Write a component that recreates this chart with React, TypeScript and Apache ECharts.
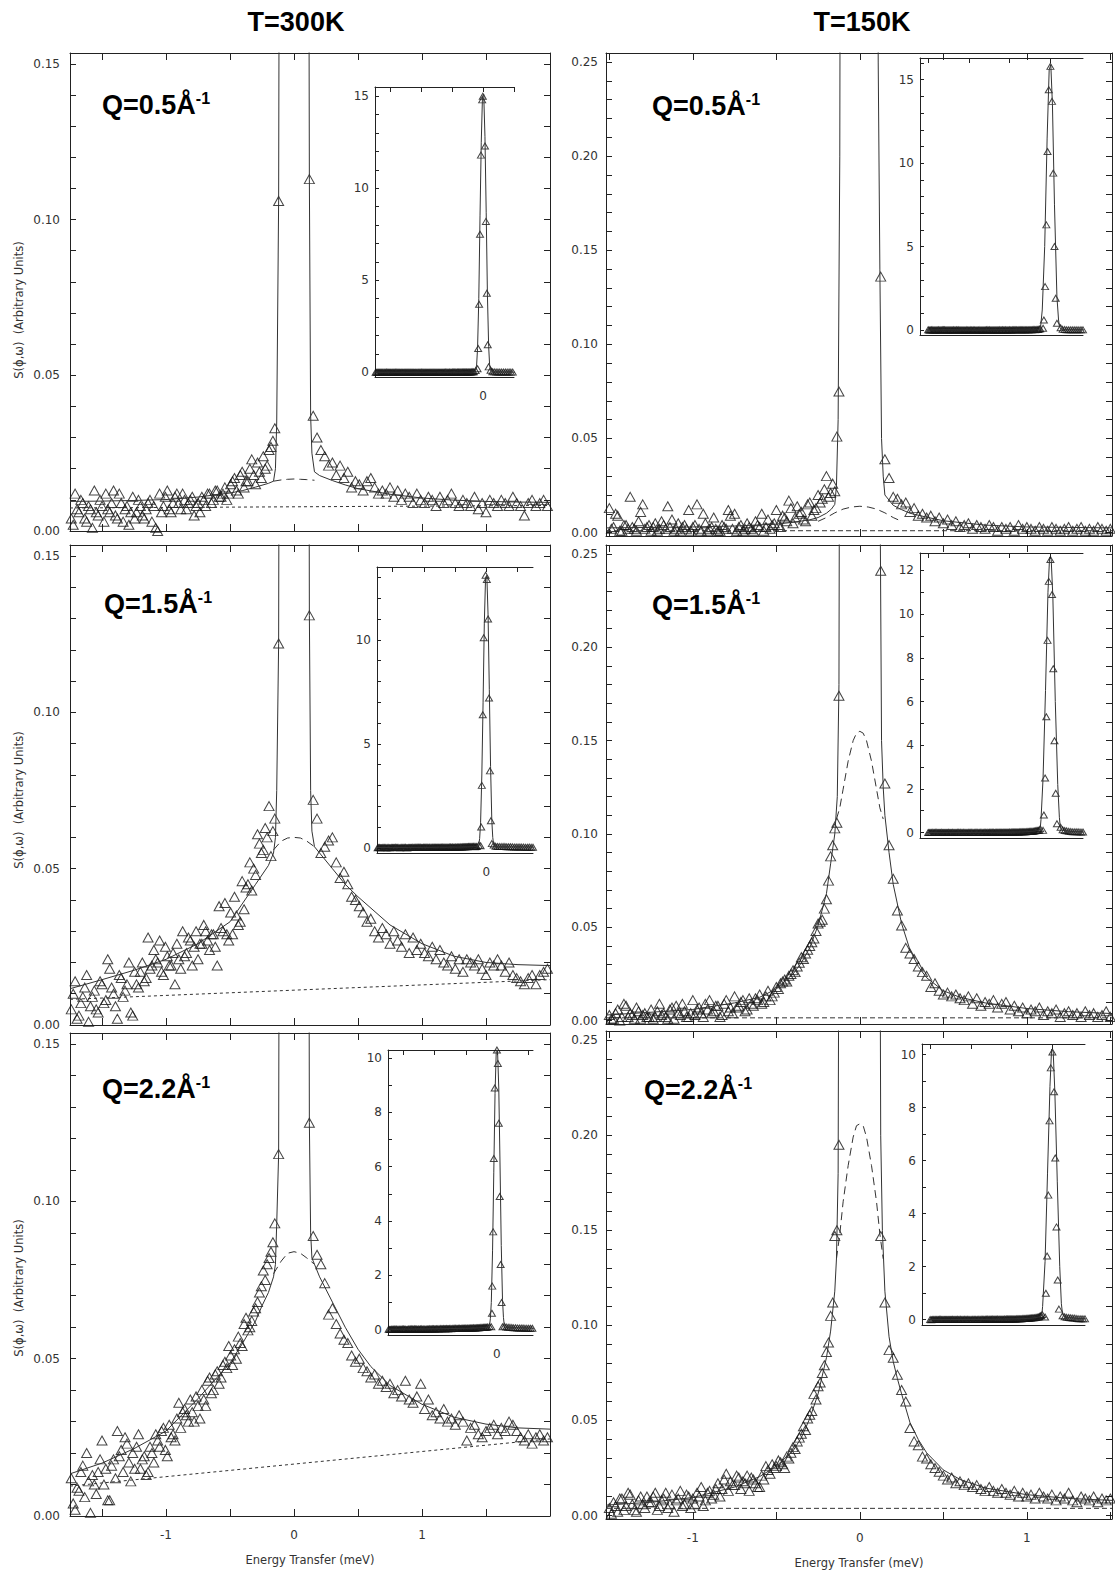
import React, { useEffect, useRef } from "react";
import * as echarts from "echarts";

// ---------- energy grids (meV) ----------
const E_LEFT = [
  -1.74, -1.71, -1.68, -1.65, -1.62, -1.59, -1.56, -1.53, -1.5, -1.47,
  -1.44, -1.41, -1.38, -1.35, -1.32, -1.29, -1.26, -1.23, -1.2, -1.17,
  -1.14, -1.11, -1.08, -1.05, -1.02, -0.99, -0.96, -0.93, -0.9, -0.87,
  -0.84, -0.81, -0.78, -0.75, -0.72, -0.69, -0.66, -0.63, -0.6, -0.57,
  -0.54, -0.51, -0.48, -0.45, -0.42, -0.39, -0.36, -0.33, -0.3, -0.27,
  -0.24, -0.21, -0.18, -0.15, -0.12,
  0.12, 0.15, 0.18, 0.21, 0.24, 0.27, 0.3, 0.33, 0.36, 0.39,
  0.42, 0.45, 0.48, 0.51, 0.54, 0.57, 0.6, 0.63, 0.66, 0.69,
  0.72, 0.75, 0.78, 0.81, 0.84, 0.87, 0.9, 0.93, 0.96, 0.99,
  1.02, 1.05, 1.08, 1.11, 1.14, 1.17, 1.2, 1.23, 1.26, 1.29,
  1.32, 1.35, 1.38, 1.41, 1.44, 1.47, 1.5, 1.53, 1.56, 1.59,
  1.62, 1.65, 1.68, 1.71, 1.74, 1.77, 1.8, 1.83, 1.86, 1.89,
  1.92, 1.95, 1.98,
];
const E_LEFT_B = [
  -1.725, -1.695, -1.665, -1.635, -1.605, -1.575, -1.545, -1.515, -1.485, -1.455,
  -1.425, -1.395, -1.365, -1.335, -1.305, -1.275, -1.245, -1.215, -1.185, -1.155,
  -1.125, -1.095, -1.065, -1.035, -1.005, -0.975, -0.945, -0.915, -0.885, -0.855,
  -0.825, -0.795, -0.765, -0.735, -0.705, -0.675, -0.645, -0.615, -0.585, -0.555,
  -0.525, -0.495, -0.465, -0.435, -0.405, -0.375, -0.345, -0.315, -0.285, -0.255,
  -0.225, -0.195, -0.165,
];
const E_RIGHT = [
  -1.5, -1.475, -1.45, -1.425, -1.4, -1.375, -1.35, -1.325, -1.3, -1.275,
  -1.25, -1.225, -1.2, -1.175, -1.15, -1.125, -1.1, -1.075, -1.05, -1.025,
  -1.0, -0.975, -0.95, -0.925, -0.9, -0.875, -0.85, -0.825, -0.8, -0.775,
  -0.75, -0.725, -0.7, -0.675, -0.65, -0.625, -0.6, -0.575, -0.55, -0.525,
  -0.5, -0.475, -0.45, -0.425, -0.4, -0.375, -0.35, -0.325, -0.3, -0.275,
  -0.25, -0.225, -0.2, -0.175, -0.15, -0.125,
  0.125, 0.15, 0.175, 0.2, 0.225, 0.25, 0.275, 0.3, 0.325, 0.35,
  0.375, 0.4, 0.425, 0.45, 0.475, 0.5, 0.525, 0.55, 0.575, 0.6,
  0.625, 0.65, 0.675, 0.7, 0.725, 0.75, 0.775, 0.8, 0.825, 0.85,
  0.875, 0.9, 0.925, 0.95, 0.975, 1.0, 1.025, 1.05, 1.075, 1.1,
  1.125, 1.15, 1.175, 1.2, 1.225, 1.25, 1.275, 1.3, 1.325, 1.35,
  1.375, 1.4, 1.425, 1.45, 1.475, 1.5,
];
const E_RIGHT_B = [
  -1.4875, -1.4625, -1.4375, -1.4125, -1.3875, -1.3625, -1.3375, -1.3125, -1.2875, -1.2625,
  -1.2375, -1.2125, -1.1875, -1.1625, -1.1375, -1.1125, -1.0875, -1.0625, -1.0375, -1.0125,
  -0.9875, -0.9625, -0.9375, -0.9125, -0.8875, -0.8625, -0.8375, -0.8125, -0.7875, -0.7625,
  -0.7375, -0.7125, -0.6875, -0.6625, -0.6375, -0.6125, -0.5875, -0.5625, -0.5375, -0.5125,
  -0.4875, -0.4625, -0.4375, -0.4125, -0.3875, -0.3625, -0.3375, -0.3125, -0.2875, -0.2625,
  -0.2375, -0.2125, -0.1875, -0.1625, -0.1375,
];

// ---------- measured S(phi,omega), T = 300 K ----------
const S300_Q05 = [
  0.004, 0.012, 0.006, 0.009, 0.003, 0.007, 0.013, 0.005, 0.008, 0.012,
  0.006, 0.013, 0.004, 0.009, 0.007, 0.002, 0.011, 0.006, 0.008, 0.004,
  0.009, 0.003, 0.001, 0.012, 0.008, 0.013, 0.006, 0.011, 0.009, 0.012,
  0.007, 0.01, 0.005, 0.009, 0.011, 0.008, 0.012, 0.01, 0.013, 0.011,
  0.014, 0.012, 0.016, 0.013, 0.018, 0.014, 0.016, 0.023, 0.015, 0.019,
  0.024, 0.021, 0.027, 0.033, 0.106,
  0.113, 0.037, 0.03, 0.026, 0.024, 0.021, 0.022, 0.018, 0.021, 0.017,
  0.019, 0.014, 0.016, 0.015, 0.013, 0.016, 0.017, 0.014, 0.012, 0.013,
  0.012, 0.014, 0.011, 0.013, 0.01, 0.012, 0.011, 0.009, 0.012, 0.01,
  0.009, 0.011, 0.01, 0.008, 0.011, 0.009, 0.01, 0.012, 0.009, 0.008,
  0.01, 0.009, 0.008, 0.011, 0.007, 0.009, 0.006, 0.01, 0.009, 0.008,
  0.01, 0.009, 0.008, 0.011, 0.009, 0.008, 0.005, 0.009, 0.01, 0.008,
  0.009, 0.01, 0.008,
];
const S300_Q05_B = [
  0.002, 0.007, 0.01, 0.004, 0.008, 0.001, 0.006, 0.01, 0.003, 0.007,
  0.009, 0.005, 0.012, 0.003, 0.008, 0.006, 0.004, 0.01, 0.005, 0.007,
  0.01, 0.008, 0.0, 0.006, 0.011, 0.007, 0.009, 0.012, 0.007, 0.01,
  0.009, 0.011, 0.008, 0.006, 0.01, 0.012, 0.009, 0.013, 0.011, 0.012,
  0.01, 0.015, 0.017, 0.012, 0.019, 0.016, 0.02, 0.018, 0.022, 0.017,
  0.02, 0.026, 0.029,
];
const S300_Q15 = [
  0.005, 0.014, 0.003, 0.009, 0.016, 0.006, 0.011, 0.004, 0.013, 0.008,
  0.018, 0.01, 0.002, 0.015, 0.011, 0.02, 0.003, 0.013, 0.017, 0.014,
  0.028, 0.019, 0.021, 0.027, 0.016, 0.022, 0.019, 0.013, 0.021, 0.03,
  0.023, 0.027, 0.025, 0.021, 0.026, 0.03, 0.024, 0.029, 0.019, 0.031,
  0.039, 0.027, 0.029, 0.035, 0.033, 0.037, 0.045, 0.043, 0.048, 0.058,
  0.056, 0.06, 0.054, 0.066, 0.122,
  0.131, 0.072, 0.066, 0.055, 0.057, 0.059, 0.06, 0.052, 0.047, 0.049,
  0.045, 0.041, 0.04, 0.038, 0.036, 0.033, 0.034, 0.03, 0.028, 0.031,
  0.029, 0.026, 0.03, 0.027, 0.025, 0.029, 0.023, 0.028, 0.024, 0.026,
  0.023, 0.022, 0.025, 0.021, 0.024, 0.02, 0.019, 0.022, 0.018, 0.021,
  0.017, 0.021, 0.02, 0.019, 0.021, 0.018, 0.016, 0.02, 0.019, 0.021,
  0.019, 0.017, 0.02, 0.016, 0.015, 0.014, 0.013, 0.015, 0.016, 0.013,
  0.016, 0.017, 0.018,
];
const S300_Q15_B = [
  0.01, 0.002, 0.007, 0.012, 0.001, 0.009, 0.005, 0.014, 0.007, 0.021,
  0.012, 0.006, 0.016, 0.009, 0.013, 0.004, 0.017, 0.012, 0.02, 0.015,
  0.018, 0.024, 0.02, 0.017, 0.025, 0.019, 0.023, 0.026, 0.018, 0.022,
  0.028, 0.019, 0.03, 0.026, 0.032, 0.027, 0.029, 0.025, 0.038, 0.03,
  0.029, 0.036, 0.041, 0.032, 0.046, 0.044, 0.052, 0.05, 0.061, 0.055,
  0.063, 0.07, 0.062,
];
const S300_Q22 = [
  0.012, 0.002, 0.008, 0.016, 0.02, 0.001, 0.01, 0.014, 0.024, 0.015,
  0.005, 0.018, 0.027, 0.021, 0.025, 0.017, 0.02, 0.022, 0.015, 0.019,
  0.014, 0.02, 0.026, 0.022, 0.028, 0.019, 0.025, 0.024, 0.036, 0.033,
  0.032, 0.037, 0.03, 0.035, 0.04, 0.035, 0.044, 0.04, 0.046, 0.044,
  0.049, 0.054, 0.048, 0.05, 0.055, 0.061, 0.059, 0.062, 0.066, 0.071,
  0.078, 0.08, 0.084, 0.093, 0.115,
  0.125, 0.089, 0.083, 0.08, 0.074, 0.064, 0.066, 0.061, 0.058, 0.056,
  0.055, 0.051, 0.049, 0.05, 0.047, 0.046, 0.044, 0.045, 0.042, 0.043,
  0.041, 0.042, 0.039, 0.04, 0.038, 0.043, 0.037, 0.036, 0.038, 0.042,
  0.034, 0.037, 0.032, 0.033, 0.031, 0.034, 0.03, 0.031, 0.029, 0.032,
  0.03, 0.024, 0.028, 0.029, 0.026, 0.025, 0.027, 0.028, 0.029, 0.026,
  0.028, 0.027, 0.03, 0.029, 0.027, 0.025, 0.024, 0.026, 0.023, 0.025,
  0.026, 0.024, 0.025,
];
const S300_Q22_B = [
  0.004, 0.009, 0.014, 0.006, 0.011, 0.013, 0.007, 0.018, 0.01, 0.005,
  0.016, 0.012, 0.019, 0.014, 0.023, 0.011, 0.015, 0.026, 0.018, 0.013,
  0.022, 0.017, 0.024, 0.027, 0.021, 0.029, 0.026, 0.031, 0.028, 0.034,
  0.03, 0.033, 0.038, 0.031, 0.037, 0.043, 0.039, 0.045, 0.042, 0.048,
  0.047, 0.051, 0.053, 0.057, 0.054, 0.063, 0.06, 0.065, 0.068, 0.073,
  0.075, 0.082, 0.087,
];

// ---------- measured S(phi,omega), T = 150 K ----------
const S150_Q05 = [
  0.013, 0.003, 0.009, 0.001, 0.004, 0.019, 0.002, 0.006, 0.015, 0.003,
  0.001, 0.005, 0.002, 0.004, 0.014, 0.007, 0.002, 0.001, 0.004, 0.012,
  0.003, 0.015, 0.001, 0.005, 0.002, 0.008, 0.001, 0.004, 0.002, 0.009,
  0.01, 0.003, 0.001, 0.005, 0.002, 0.006, 0.003, 0.001, 0.007, 0.004,
  0.012, 0.003, 0.008, 0.017, 0.005, 0.014, 0.011, 0.006, 0.016, 0.012,
  0.02, 0.018, 0.03, 0.021, 0.022, 0.075,
  0.136, 0.039, 0.029, 0.019, 0.018, 0.015, 0.016, 0.011, 0.013, 0.009,
  0.01, 0.008, 0.009, 0.006, 0.008, 0.005, 0.007, 0.004, 0.006, 0.003,
  0.004, 0.005, 0.002, 0.004, 0.003, 0.002, 0.004, 0.003, 0.001, 0.003,
  0.002, 0.003, 0.001, 0.004, 0.002, 0.003, 0.002, 0.001, 0.003, 0.002,
  0.001, 0.003, 0.002, 0.001, 0.002, 0.003, 0.001, 0.002, 0.003, 0.001,
  0.002, 0.001, 0.003, 0.002, 0.001, 0.002,
];
const S150_Q05_B = [
  0.002, 0.01, 0.001, 0.004, 0.002, 0.003, 0.001, 0.011, 0.002, 0.004,
  0.003, 0.001, 0.006, 0.002, 0.003, 0.001, 0.005, 0.003, 0.002, 0.001,
  0.004, 0.002, 0.01, 0.001, 0.003, 0.002, 0.001, 0.003, 0.012, 0.002,
  0.001, 0.004, 0.002, 0.003, 0.001, 0.004, 0.01, 0.003, 0.002, 0.005,
  0.004, 0.009, 0.006, 0.013, 0.008, 0.01, 0.007, 0.015, 0.009, 0.013,
  0.016, 0.023, 0.019, 0.026, 0.051,
];
const S150_Q15 = [
  0.003, 0.001, 0.006, 0.002, 0.008, 0.004, 0.001, 0.005, 0.003, 0.002,
  0.006, 0.002, 0.009, 0.004, 0.001, 0.007, 0.008, 0.003, 0.005, 0.002,
  0.011, 0.006, 0.004, 0.009, 0.011, 0.005, 0.008, 0.003, 0.011, 0.007,
  0.013, 0.008, 0.011, 0.006, 0.009, 0.012, 0.014, 0.01, 0.016, 0.013,
  0.018, 0.02, 0.022, 0.024, 0.027, 0.029, 0.034, 0.036, 0.04, 0.044,
  0.052, 0.054, 0.065, 0.088, 0.103, 0.174,
  0.241, 0.127, 0.094, 0.076, 0.059, 0.051, 0.039, 0.036, 0.033, 0.029,
  0.026, 0.024, 0.018, 0.02, 0.016, 0.014, 0.015, 0.013, 0.014, 0.012,
  0.011, 0.013, 0.009, 0.012, 0.008, 0.01, 0.009, 0.011, 0.007, 0.009,
  0.01, 0.006, 0.008, 0.005, 0.007, 0.004, 0.006, 0.005, 0.007, 0.003,
  0.005, 0.004, 0.006, 0.002, 0.004, 0.005, 0.003, 0.004, 0.002, 0.005,
  0.003, 0.004, 0.002, 0.003, 0.005, 0.002,
];
const S150_Q15_B = [
  0.001, 0.004, 0.0, 0.009, 0.002, 0.003, 0.007, 0.001, 0.004, 0.002,
  0.001, 0.005, 0.003, 0.002, 0.006, 0.001, 0.004, 0.009, 0.002, 0.004,
  0.003, 0.007, 0.002, 0.006, 0.004, 0.008, 0.002, 0.009, 0.005, 0.004,
  0.007, 0.01, 0.005, 0.012, 0.008, 0.011, 0.009, 0.013, 0.011, 0.015,
  0.017, 0.021, 0.021, 0.025, 0.026, 0.031, 0.033, 0.038, 0.042, 0.048,
  0.053, 0.06, 0.075, 0.094, 0.106,
];
const S150_Q22 = [
  0.004, 0.007, 0.002, 0.009, 0.005, 0.011, 0.003, 0.008, 0.006, 0.01,
  0.007, 0.012, 0.005, 0.009, 0.004, 0.011, 0.008, 0.013, 0.006, 0.01,
  0.009, 0.012, 0.015, 0.008, 0.013, 0.011, 0.017, 0.014, 0.022, 0.018,
  0.016, 0.02, 0.018, 0.021, 0.02, 0.017, 0.015, 0.019, 0.024, 0.027,
  0.026, 0.028, 0.025, 0.03, 0.036, 0.039, 0.043, 0.045, 0.053, 0.064,
  0.068, 0.075, 0.086, 0.105, 0.147, 0.195,
  0.147, 0.112, 0.087, 0.083, 0.074, 0.066, 0.06, 0.046, 0.039, 0.037,
  0.031, 0.03, 0.027, 0.025, 0.023, 0.021, 0.019, 0.02, 0.017, 0.018,
  0.016, 0.017, 0.015, 0.016, 0.014, 0.013, 0.015, 0.013, 0.012, 0.014,
  0.012, 0.011, 0.013, 0.01, 0.012, 0.01, 0.011, 0.009, 0.012, 0.01,
  0.009, 0.011, 0.008, 0.01, 0.009, 0.012, 0.008, 0.007, 0.01, 0.009,
  0.008, 0.01, 0.007, 0.009, 0.008, 0.009,
];
const S150_Q22_B = [
  0.001, 0.005, 0.009, 0.003, 0.012, 0.006, 0.002, 0.01, 0.004, 0.007,
  0.01, 0.003, 0.008, 0.012, 0.006, 0.002, 0.009, 0.005, 0.011, 0.004,
  0.006, 0.01, 0.005, 0.012, 0.009, 0.014, 0.01, 0.019, 0.013, 0.016,
  0.021, 0.014, 0.017, 0.013, 0.019, 0.015, 0.021, 0.026, 0.022, 0.025,
  0.029, 0.027, 0.031, 0.033, 0.035, 0.041, 0.047, 0.051, 0.055, 0.061,
  0.07, 0.079, 0.091, 0.112, 0.15,
];

// ---------- elastic-peak points [E, S], shown in the insets ----------
const PEAK_300_Q05 = [
  [-0.09, 0.2], [-0.08, 1.3], [-0.065, 3.7], [-0.05, 7.5], [-0.035, 11.8], [-0.015, 14.8],
  [-0.005, 15.0], [0.03, 12.3], [0.045, 8.2], [0.06, 4.3], [0.075, 1.5], [0.09, 0.3],
];
const PEAK_300_Q15 = [
  [-0.09, 0.1], [-0.08, 1.0], [-0.07, 3.0], [-0.055, 6.4], [-0.04, 10.1], [-0.01, 13.1],
  [0.01, 12.9], [0.03, 11.0], [0.045, 7.2], [0.06, 3.7], [0.075, 1.3], [0.09, 0.2],
];
const PEAK_300_Q22 = [
  [-0.09, 0.1], [-0.08, 0.6], [-0.075, 1.6], [-0.06, 3.6], [-0.05, 6.3], [-0.035, 8.9],
  [0.0, 10.3], [0.015, 9.8], [0.03, 7.6], [0.045, 4.9], [0.06, 2.4], [0.075, 1.0], [0.09, 0.1],
];
const PEAK_150_Q05 = [
  [-0.09, 0.1], [-0.08, 0.6], [-0.065, 2.6], [-0.05, 6.3], [-0.035, 10.7], [-0.02, 14.4],
  [0.0, 15.8], [0.02, 13.7], [0.035, 9.4], [0.05, 5.0], [0.065, 1.9], [0.08, 0.4],
];
const PEAK_150_Q15 = [
  [-0.09, 0.1], [-0.08, 0.8], [-0.065, 2.5], [-0.05, 5.3], [-0.035, 8.8], [-0.02, 11.5],
  [0.0, 12.5], [0.02, 10.9], [0.035, 7.5], [0.05, 4.2], [0.065, 1.8], [0.08, 0.4],
];
const PEAK_150_Q22 = [
  [-0.09, 0.1], [-0.08, 1.0], [-0.065, 2.4], [-0.05, 4.7], [-0.035, 7.5], [-0.02, 9.5],
  [0.0, 10.1], [0.02, 8.6], [0.035, 6.1], [0.05, 3.5], [0.065, 1.5], [0.08, 0.4],
];

// ---------- model curves [E, S]: total fit, quasi-elastic part, background ----------
const FIT_300_Q05 = [
  [-1.75, 0.0095], [-1.5, 0.0096], [-1.25, 0.0098], [-1.0, 0.0101], [-0.75, 0.0109],
  [-0.5, 0.0122], [-0.4, 0.013], [-0.3, 0.0141], [-0.2, 0.0153], [-0.16, 0.016],
  [-0.145, 0.02], [-0.135, 0.035], [-0.12, 0.106], [-0.105, 0.4], [-0.09, 1.3],
  [-0.07, 4.0], [-0.05, 8.5], [-0.03, 12.5], [-0.01, 15.0], [0.01, 15.1], [0.03, 12.8],
  [0.05, 8.7], [0.07, 4.2], [0.09, 1.4], [0.105, 0.42], [0.12, 0.113], [0.13, 0.037],
  [0.14, 0.025], [0.16, 0.019], [0.2, 0.0178], [0.3, 0.0162], [0.4, 0.0148], [0.5, 0.0136],
  [0.75, 0.0118], [1.0, 0.0106], [1.25, 0.0099], [1.5, 0.0095], [1.75, 0.0093], [2.0, 0.0092],
];
const QENS_300_Q05 = [
  [-0.16, 0.016], [-0.1, 0.0164], [-0.05, 0.0166], [0.0, 0.0167], [0.05, 0.0166], [0.1, 0.0165], [0.16, 0.0163],
];
const BKG_300_Q05 = [[-1.75, 0.0074], [2.0, 0.0082]];

const FIT_300_Q15 = [
  [-1.75, 0.0116], [-1.5, 0.0145], [-1.25, 0.0175], [-1.0, 0.021], [-0.75, 0.026],
  [-0.5, 0.033], [-0.4, 0.039], [-0.3, 0.045], [-0.2, 0.051], [-0.16, 0.055],
  [-0.145, 0.06], [-0.135, 0.075], [-0.12, 0.122], [-0.105, 0.45], [-0.09, 1.2],
  [-0.07, 3.5], [-0.05, 7.0], [-0.03, 10.8], [-0.01, 13.0], [0.01, 13.1], [0.03, 11.2],
  [0.05, 7.6], [0.07, 3.9], [0.09, 1.3], [0.105, 0.5], [0.12, 0.131], [0.13, 0.075],
  [0.14, 0.062], [0.16, 0.057], [0.2, 0.055], [0.3, 0.05], [0.4, 0.045], [0.5, 0.041],
  [0.75, 0.032], [1.0, 0.026], [1.25, 0.022], [1.5, 0.02], [1.75, 0.0193], [2.0, 0.019],
];
const QENS_300_Q15 = [
  [-0.16, 0.056], [-0.1, 0.0588], [-0.05, 0.0598], [0.0, 0.06], [0.05, 0.0598], [0.1, 0.0588], [0.16, 0.057],
];
const BKG_300_Q15 = [[-1.75, 0.0082], [2.0, 0.0145]];

const FIT_300_Q22 = [
  [-1.75, 0.0134], [-1.5, 0.0168], [-1.25, 0.0214], [-1.0, 0.027], [-0.75, 0.0373],
  [-0.5, 0.0486], [-0.4, 0.055], [-0.3, 0.062], [-0.25, 0.0668], [-0.2, 0.071],
  [-0.16, 0.076], [-0.145, 0.08], [-0.135, 0.093], [-0.12, 0.115], [-0.105, 0.4],
  [-0.09, 1.0], [-0.07, 2.9], [-0.05, 5.8], [-0.03, 8.7], [-0.01, 10.3], [0.01, 10.3],
  [0.03, 8.9], [0.05, 6.1], [0.07, 3.1], [0.09, 1.1], [0.105, 0.45], [0.12, 0.125],
  [0.13, 0.09], [0.14, 0.082], [0.16, 0.08], [0.2, 0.076], [0.3, 0.068], [0.4, 0.06],
  [0.5, 0.053], [0.6, 0.0475], [0.75, 0.0415], [1.0, 0.0355], [1.25, 0.0314], [1.5, 0.0292], [1.75, 0.028], [2.0, 0.0276],
];
const QENS_300_Q22 = [
  [-0.16, 0.077], [-0.1, 0.081], [-0.05, 0.0835], [0.0, 0.084], [0.05, 0.0835], [0.1, 0.082], [0.16, 0.08],
];
const BKG_300_Q22 = [[-1.75, 0.0095], [2.0, 0.0245]];

const FIT_150_Q05 = [
  [-1.52, 0.0025], [-1.0, 0.003], [-0.75, 0.0035], [-0.5, 0.0045], [-0.4, 0.0055],
  [-0.3, 0.0068], [-0.25, 0.008], [-0.2, 0.0103], [-0.17, 0.0125], [-0.15, 0.015],
  [-0.14, 0.025], [-0.13, 0.06], [-0.12, 0.2], [-0.1, 1.2], [-0.07, 5.0], [-0.04, 11.5],
  [-0.015, 15.6], [0.005, 15.9], [0.025, 13.5], [0.05, 7.5], [0.08, 2.0], [0.1, 0.6],
  [0.11, 0.25], [0.12, 0.14], [0.13, 0.05], [0.14, 0.03], [0.15, 0.02], [0.2, 0.0145],
  [0.25, 0.0122], [0.3, 0.0103], [0.4, 0.0082], [0.5, 0.0063], [0.75, 0.004], [1.0, 0.003], [1.51, 0.0025],
];
const QENS_150_Q05 = [
  [-0.25, 0.006], [-0.2, 0.008], [-0.15, 0.0105], [-0.1, 0.0125], [-0.05, 0.0136], [0.0, 0.014],
  [0.05, 0.0136], [0.1, 0.0125], [0.15, 0.0105], [0.2, 0.008], [0.25, 0.006],
];
const BKG_150_Q05 = [[-1.52, 0.001], [1.51, 0.001]];

const FIT_150_Q15 = [
  [-1.52, 0.003], [-1.25, 0.0045], [-1.0, 0.006], [-0.75, 0.0095], [-0.6, 0.0125],
  [-0.5, 0.017], [-0.4, 0.025], [-0.35, 0.031], [-0.3, 0.039], [-0.25, 0.051],
  [-0.2, 0.068], [-0.175, 0.084], [-0.15, 0.1], [-0.135, 0.12], [-0.125, 0.18],
  [-0.115, 0.6], [-0.09, 2.5], [-0.06, 6.5], [-0.03, 11.0], [-0.01, 12.6], [0.01, 12.5],
  [0.03, 10.8], [0.06, 6.0], [0.09, 2.2], [0.11, 0.7], [0.12, 0.3], [0.13, 0.15],
  [0.14, 0.125], [0.15, 0.11], [0.175, 0.09], [0.2, 0.073], [0.25, 0.052], [0.3, 0.038],
  [0.35, 0.029], [0.4, 0.023], [0.5, 0.016], [0.6, 0.0125], [0.75, 0.0095], [1.0, 0.0065],
  [1.25, 0.0048], [1.51, 0.0038],
];
const QENS_150_Q15 = [
  [-0.14, 0.108], [-0.12, 0.114], [-0.1, 0.124], [-0.07, 0.139], [-0.04, 0.15], [-0.02, 0.154],
  [0.0, 0.155], [0.02, 0.154], [0.04, 0.15], [0.07, 0.139], [0.1, 0.124], [0.12, 0.114], [0.14, 0.108],
];
const BKG_150_Q15 = [[-1.52, 0.0015], [1.51, 0.0015]];

const FIT_150_Q22 = [
  [-1.52, 0.0055], [-1.25, 0.007], [-1.0, 0.0095], [-0.75, 0.015], [-0.6, 0.0205],
  [-0.5, 0.026], [-0.4, 0.034], [-0.35, 0.041], [-0.3, 0.051], [-0.25, 0.064],
  [-0.2, 0.083], [-0.175, 0.097], [-0.15, 0.118], [-0.14, 0.135], [-0.13, 0.18],
  [-0.12, 0.5], [-0.09, 2.2], [-0.06, 5.5], [-0.03, 8.8], [-0.01, 10.2], [0.01, 10.1],
  [0.03, 8.6], [0.06, 5.2], [0.09, 2.0], [0.11, 0.6], [0.125, 0.2], [0.135, 0.15],
  [0.15, 0.118], [0.175, 0.094], [0.2, 0.081], [0.225, 0.072], [0.25, 0.064], [0.3, 0.049],
  [0.35, 0.04], [0.4, 0.033], [0.5, 0.024], [0.6, 0.019], [0.75, 0.0145], [1.0, 0.011],
  [1.25, 0.009], [1.51, 0.008],
];
const QENS_150_Q22 = [
  [-0.14, 0.135], [-0.12, 0.148], [-0.1, 0.165], [-0.07, 0.184], [-0.04, 0.199], [-0.02, 0.205],
  [0.0, 0.206], [0.02, 0.205], [0.04, 0.199], [0.07, 0.184], [0.1, 0.165], [0.12, 0.148], [0.14, 0.135],
];
const BKG_150_Q22 = [[-1.52, 0.0038], [1.51, 0.0038]];

// ---------- axis ticks and labels ----------
const TEMPS = ["T=300K", "T=150K"];
const Q_VALUES = ["0.5", "1.5", "2.2"];
const X_TICKS = [-1.5, -1, -0.5, 0, 0.5, 1, 1.5];
const X_LABELS = [-1, 0, 1];
const Y_TICKS_300 = [0, 0.01, 0.02, 0.03, 0.04, 0.05, 0.06, 0.07, 0.08, 0.09, 0.1, 0.11, 0.12, 0.13, 0.14, 0.15];
const Y_LABELS_300 = [0, 0.05, 0.1, 0.15];
const Y_TICKS_150 = [
  0, 0.01, 0.02, 0.03, 0.04, 0.05, 0.06, 0.07, 0.08, 0.09, 0.1, 0.11, 0.12, 0.13,
  0.14, 0.15, 0.16, 0.17, 0.18, 0.19, 0.2, 0.21, 0.22, 0.23, 0.24, 0.25,
];
const Y_LABELS_150 = [0, 0.05, 0.1, 0.15, 0.2, 0.25];
const INSET_X_TICKS_300 = [-1.5, -1, -0.5, 0, 0.5];
const INSET_X_TICKS_150 = [-1.5, -1, -0.5, 0];
const INSET_X_LABELS = [0];
const INSET_Y_TICKS_300_Q05 = [0, 1, 2, 3, 4, 5, 6, 7, 8, 9, 10, 11, 12, 13, 14, 15];
const INSET_Y_LABELS_300_Q05 = [0, 5, 10, 15];
const INSET_Y_TICKS_300_Q15 = [0, 1, 2, 3, 4, 5, 6, 7, 8, 9, 10, 11, 12, 13];
const INSET_Y_LABELS_300_Q15 = [0, 5, 10];
const INSET_Y_TICKS_300_Q22 = [0, 1, 2, 3, 4, 5, 6, 7, 8, 9, 10];
const INSET_Y_LABELS_300_Q22 = [0, 2, 4, 6, 8, 10];
const INSET_Y_TICKS_150_Q05 = [0, 1, 2, 3, 4, 5, 6, 7, 8, 9, 10, 11, 12, 13, 14, 15, 16];
const INSET_Y_LABELS_150_Q05 = [0, 5, 10, 15];
const INSET_Y_TICKS_150_Q15 = [0, 1, 2, 3, 4, 5, 6, 7, 8, 9, 10, 11, 12];
const INSET_Y_LABELS_150_Q15 = [0, 2, 4, 6, 8, 10, 12];
const INSET_Y_TICKS_150_Q22 = [0, 1, 2, 3, 4, 5, 6, 7, 8, 9, 10];
const INSET_Y_LABELS_150_Q22 = [0, 2, 4, 6, 8, 10];

// ---------- styling / layout ----------
const AXIS_COLOR = "#222";
const TEXT_COLOR = "#333";
const LABEL_FONT = '"DejaVu Sans", Verdana, sans-serif';
const BOLD_FONT = '"Liberation Sans", Arial, Helvetica, sans-serif';

const MAIN_BOXES = [
  { left: 70, top: 53, width: 480, height: 478 },
  { left: 70, top: 545, width: 480, height: 480 },
  { left: 70, top: 1033, width: 480, height: 483 },
  { left: 606, top: 53, width: 506, height: 483 },
  { left: 606, top: 545, width: 506, height: 479 },
  { left: 606, top: 1031, width: 506, height: 488 },
];
const INSET_BOXES = [
  { left: 375, top: 87, width: 139, height: 290 },
  { left: 377, top: 567, width: 156, height: 286 },
  { left: 388, top: 1050, width: 145, height: 285 },
  { left: 920, top: 58, width: 163, height: 277 },
  { left: 920, top: 553, width: 163, height: 285 },
  { left: 922, top: 1044, width: 163, height: 281 },
];
const Q_POS = [
  [102, 105], [104, 604], [102, 1089],
  [652, 106], [652, 605], [644, 1090],
];
const Y_TITLE_Y = [310, 800, 1288];

type Panel = {
  col: number; row: number; q: string;
  e: number[]; v: number[]; eb: number[]; vb: number[];
  peak: number[][]; fit: number[][]; qens: number[][]; bkg: number[][];
  insetX: [number, number]; insetY: [number, number];
  insetYTicks: number[]; insetYLabels: number[];
};

const PANELS: Panel[] = [
  { col: 0, row: 0, q: Q_VALUES[0], e: E_LEFT, v: S300_Q05, eb: E_LEFT_B, vb: S300_Q05_B,
    peak: PEAK_300_Q05, fit: FIT_300_Q05, qens: QENS_300_Q05, bkg: BKG_300_Q05,
    insetX: [-1.75, 0.5], insetY: [-0.25, 15.5], insetYTicks: INSET_Y_TICKS_300_Q05, insetYLabels: INSET_Y_LABELS_300_Q05 },
  { col: 0, row: 1, q: Q_VALUES[1], e: E_LEFT, v: S300_Q15, eb: E_LEFT_B, vb: S300_Q15_B,
    peak: PEAK_300_Q15, fit: FIT_300_Q15, qens: QENS_300_Q15, bkg: BKG_300_Q15,
    insetX: [-1.75, 0.75], insetY: [-0.25, 13.5], insetYTicks: INSET_Y_TICKS_300_Q15, insetYLabels: INSET_Y_LABELS_300_Q15 },
  { col: 0, row: 2, q: Q_VALUES[2], e: E_LEFT, v: S300_Q22, eb: E_LEFT_B, vb: S300_Q22_B,
    peak: PEAK_300_Q22, fit: FIT_300_Q22, qens: QENS_300_Q22, bkg: BKG_300_Q22,
    insetX: [-1.75, 0.58], insetY: [-0.2, 10.3], insetYTicks: INSET_Y_TICKS_300_Q22, insetYLabels: INSET_Y_LABELS_300_Q22 },
  { col: 1, row: 0, q: Q_VALUES[0], e: E_RIGHT, v: S150_Q05, eb: E_RIGHT_B, vb: S150_Q05_B,
    peak: PEAK_150_Q05, fit: FIT_150_Q05, qens: QENS_150_Q05, bkg: BKG_150_Q05,
    insetX: [-1.6, 0.4], insetY: [-0.3, 16.3], insetYTicks: INSET_Y_TICKS_150_Q05, insetYLabels: INSET_Y_LABELS_150_Q05 },
  { col: 1, row: 1, q: Q_VALUES[1], e: E_RIGHT, v: S150_Q15, eb: E_RIGHT_B, vb: S150_Q15_B,
    peak: PEAK_150_Q15, fit: FIT_150_Q15, qens: QENS_150_Q15, bkg: BKG_150_Q15,
    insetX: [-1.6, 0.4], insetY: [-0.25, 12.8], insetYTicks: INSET_Y_TICKS_150_Q15, insetYLabels: INSET_Y_LABELS_150_Q15 },
  { col: 1, row: 2, q: Q_VALUES[2], e: E_RIGHT, v: S150_Q22, eb: E_RIGHT_B, vb: S150_Q22_B,
    peak: PEAK_150_Q22, fit: FIT_150_Q22, qens: QENS_150_Q22, bkg: BKG_150_Q22,
    insetX: [-1.6, 0.4], insetY: [-0.2, 10.4], insetYTicks: INSET_Y_TICKS_150_Q22, insetYLabels: INSET_Y_LABELS_150_Q22 },
];

const pairs = (xs: number[], ys: number[]) => xs.map((x, i) => [x, ys[i]]);

const axisLine = { show: true, onZero: false, lineStyle: { color: AXIS_COLOR, width: 1 } };
const labelStyle = { fontFamily: LABEL_FONT, fontSize: 12, color: TEXT_COLOR };

function buildOption() {
  const grid: any[] = [];
  const xAxis: any[] = [];
  const yAxis: any[] = [];
  const series: any[] = [];
  const graphic: any[] = [];

  PANELS.forEach((_, i) => grid.push({ ...MAIN_BOXES[i], containLabel: false, outerBoundsMode: "none" }));
  PANELS.forEach((_, i) => grid.push({ ...INSET_BOXES[i], containLabel: false, outerBoundsMode: "none" }));

  // main panel axes: x bottom/top = 2i, 2i+1 ; y left/right = 2i, 2i+1
  PANELS.forEach((p, i) => {
    const xr = p.col === 0 ? [-1.75, 2.0] : [-1.52, 1.51];
    const yr = p.col === 0 ? [0, 0.1535] : [-0.0018, 0.2548];
    const yTicks = p.col === 0 ? Y_TICKS_300 : Y_TICKS_150;
    const yLabels = p.col === 0 ? Y_LABELS_300 : Y_LABELS_150;
    const last = p.row === 2;
    ["bottom", "top"].forEach((pos) => {
      const bottom = pos === "bottom";
      xAxis.push({
        type: "value", gridIndex: i, position: pos, min: xr[0], max: xr[1],
        axisLine, splitLine: { show: false },
        axisTick: { show: true, inside: true, length: 7, customValues: X_TICKS, lineStyle: { color: AXIS_COLOR } },
        axisLabel: {
          show: bottom && last, customValues: X_LABELS, margin: 13,
          formatter: (v: number) => String(v), ...labelStyle,
        },
        name: bottom && last ? "Energy Transfer (meV)" : "",
        nameLocation: "middle", nameGap: 38,
        nameTextStyle: { fontFamily: LABEL_FONT, fontSize: 11.5, color: TEXT_COLOR },
      });
    });
    ["left", "right"].forEach((pos) => {
      const left = pos === "left";
      yAxis.push({
        type: "value", gridIndex: i, position: pos, min: yr[0], max: yr[1],
        axisLine, splitLine: { show: false },
        axisTick: { show: true, inside: true, length: 6, customValues: yTicks, lineStyle: { color: AXIS_COLOR } },
        axisLabel: {
          show: left, customValues: yLabels, margin: p.col === 0 ? 10 : 8,
          formatter: (v: number) => v.toFixed(2), ...labelStyle,
        },
      });
    });
  });

  // inset axes: x bottom/top = 12 + 2i, 13 + 2i ; y left = 12 + i
  PANELS.forEach((p, i) => {
    const g = 6 + i;
    ["bottom", "top"].forEach((pos) => {
      const bottom = pos === "bottom";
      xAxis.push({
        type: "value", gridIndex: g, position: pos, min: p.insetX[0], max: p.insetX[1],
        axisLine, splitLine: { show: false },
        axisTick: bottom
          ? { show: false }
          : { show: true, inside: true, length: 5, customValues: p.col === 0 ? INSET_X_TICKS_300 : INSET_X_TICKS_150, lineStyle: { color: AXIS_COLOR } },
        axisLabel: {
          show: bottom && p.col === 0, customValues: INSET_X_LABELS, margin: 13,
          formatter: (v: number) => String(v), ...labelStyle,
        },
      });
    });
    yAxis.push({
      type: "value", gridIndex: g, position: "left", min: p.insetY[0], max: p.insetY[1],
      axisLine, splitLine: { show: false },
      axisTick: { show: true, inside: true, length: 4, customValues: p.insetYTicks, lineStyle: { color: AXIS_COLOR } },
      axisLabel: { show: true, customValues: p.insetYLabels, margin: 6, formatter: (v: number) => String(v), ...labelStyle },
    });
  });

  const triangles = (size: number[]) => ({
    type: "scatter", symbol: "triangle", symbolSize: size, clip: true, silent: true,
    itemStyle: { color: "rgba(255,255,255,0)", borderColor: "#151515", borderWidth: 1 },
    z: 2,
  });
  const curve = (data: number[][], dash: any, width = 1) => ({
    type: "line", data, showSymbol: false, symbol: "none", clip: true, silent: true,
    lineStyle: { color: "#333", width, type: dash }, z: 3,
  });

  PANELS.forEach((p, i) => {
    const pts = [...pairs(p.e, p.v), ...pairs(p.eb, p.vb)];
    const mx = { xAxisIndex: 2 * i, yAxisIndex: 2 * i };
    const ix = { xAxisIndex: 12 + 2 * i, yAxisIndex: 12 + i };
    series.push({ ...triangles([10, 9]), ...mx, data: pts });
    series.push({ ...curve(p.fit, "solid"), ...mx });
    series.push({ ...curve(p.qens, [8, 5]), ...mx });
    series.push({ ...curve(p.bkg, p.col === 0 ? [3, 3] : [5, 3]), ...mx });
    series.push({ ...triangles([7, 6]), ...ix, data: [...pts, ...p.peak] });
    series.push({ ...curve(p.fit, "solid"), ...ix });
  });

  // column titles
  TEMPS.forEach((t, c) => {
    graphic.push({
      type: "text", x: c === 0 ? 296 : 862, y: 22, silent: true,
      style: {
        text: t, font: `bold 27px ${BOLD_FONT}`, fill: "#000",
        align: "center", verticalAlign: "middle", textAlign: "center", textVerticalAlign: "middle",
      },
    });
  });

  // Q labels inside each panel
  PANELS.forEach((p, i) => {
    graphic.push({
      type: "text", x: Q_POS[i][0], y: Q_POS[i][1], silent: true, z: 10,
      style: {
        text: `{a|Q=${p.q}Å}{s|-1}`,
        align: "left", verticalAlign: "middle", textAlign: "left", textVerticalAlign: "middle",
        rich: {
          a: { font: `bold 27px ${BOLD_FONT}`, fill: "#000", lineHeight: 30 },
          s: { font: `bold 16px ${BOLD_FONT}`, fill: "#000", lineHeight: 16, verticalAlign: "top" },
        },
      },
    });
  });

  // y-axis titles of the left column
  Y_TITLE_Y.forEach((y) => {
    graphic.push({
      type: "text", x: 19, y, rotation: Math.PI / 2, silent: true,
      style: {
        text: "S(ϕ,ω)  (Arbitrary Units)", font: `11.5px ${LABEL_FONT}`, fill: TEXT_COLOR,
        align: "center", verticalAlign: "middle", textAlign: "center", textVerticalAlign: "middle",
      },
    });
  });

  return {
    animation: false,
    backgroundColor: "#ffffff",
    grid, xAxis, yAxis, series, graphic,
  };
}

export default function App() {
  const ref = useRef<HTMLDivElement>(null);
  useEffect(() => {
    if (!ref.current) return;
    const chart = echarts.init(ref.current, undefined, { renderer: "svg" });
    chart.setOption(buildOption() as any);
    return () => chart.dispose();
  }, []);
  return (
    <div
      ref={ref}
      style={{ position: "absolute", left: 0, top: 0, width: 1115, height: 1573, background: "#fff" }}
    />
  );
}
